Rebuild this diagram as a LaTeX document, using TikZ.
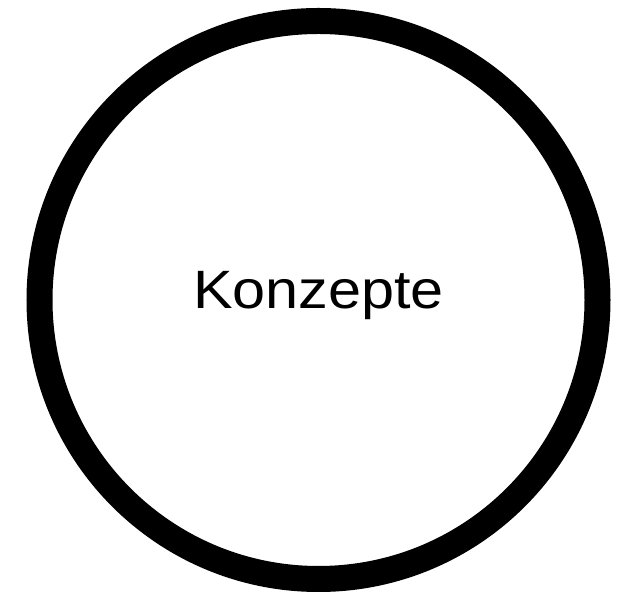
\documentclass[tikz,border=0pt]{standalone}
\usepackage{fontspec}
\setmainfont{Liberation Sans}
\usepackage{tikz}
\usetikzlibrary{positioning}

\begin{document}
\begin{tikzpicture}[
  x=1pt, y=1pt,
  ring/.style={circle, draw, line width=26pt, minimum size=558pt, inner sep=0pt, text depth=20pt, align=center, font=\fontsize{54}{60}\selectfont}
]

% Frame
\useasboundingbox (0,0) rectangle (638,599);

% Concept circle
\node[ring] (konzepte) at (318.5,299) {\scalebox{1.1}[1]{Konzepte}};

\end{tikzpicture}
\end{document}
